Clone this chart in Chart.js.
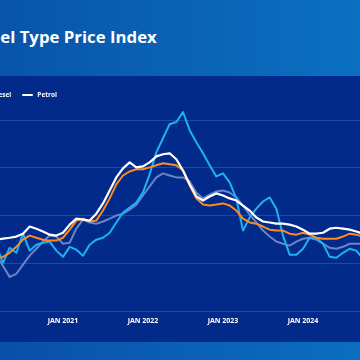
<!DOCTYPE html>
<html>
<head>
<meta charset="utf-8">
<script src="https://cdn.jsdelivr.net/npm/chart.js@4/dist/chart.umd.min.js"></script>
<style>
  html, body { margin:0; padding:0; width:360px; height:360px; overflow:hidden; background:#022a8b; }
  #header { position:absolute; left:0; top:0; width:360px; height:76px;
    background: linear-gradient(90deg, #0855ab 0%, #0a62b6 50%, #0a70c2 100%); }
  #title { position:absolute; left:-20px; top:26.5px; line-height:20px; white-space:nowrap;
    font-family:'Open Sans', sans-serif; font-weight:700; font-size:16.8px; color:#ffffff; }
  #panel { position:absolute; left:0; top:76px; width:360px; height:266px; background:#022a8b; }
  #footer { position:absolute; left:0; top:342px; width:360px; height:18px;
    background: linear-gradient(90deg, #0a4fa9 0%, #0a5fb6 50%, #0a6ec1 100%); }
  #legend { position:absolute; right:303px; top:91px; white-space:nowrap; display:flex; gap:11px;
    font-family:'Open Sans', sans-serif; font-weight:700; font-size:6.5px; color:#ffffff; line-height:8px; }
  .item { display:flex; align-items:center; gap:4px; }
  .mark { display:inline-block; width:11px; height:2px; border-radius:1px; }
  #wrap { position:absolute; left:0; top:76px; width:360px; height:266px; }
</style>
</head>
<body>
<div id="header"><div id="title">Fuel Type Price Index</div></div>
<div id="panel"></div>
<div id="footer"></div>
<div id="wrap"><canvas id="c" width="360" height="266"></canvas></div>
<div id="legend"></div>
<script>
// Months (Mar 2020 .. Oct 2024)
const months = [];
(function(){
  const names = ['JAN','FEB','MAR','APR','MAY','JUN','JUL','AUG','SEP','OCT','NOV','DEC'];
  for (let y = 2020; y <= 2024; y++) for (let m = 0; m < 12; m++) {
    if (y === 2020 && m < 2) continue;
    if (y === 2024 && m > 9) continue;
    months.push(names[m] + ' ' + y);
  }
})();
const tickLabels = ['JAN 2021', 'JAN 2022', 'JAN 2023', 'JAN 2024'];
const gridValues = [60, 80, 100, 120, 140];

const seriesNames = ['Kerosene', 'LPG', 'Diesel', 'Petrol'];

const petrol = [89.9,90.3,90.7,91.2,92.4,95.4,94.5,93.3,92.0,91.6,92.8,96.2,98.7,98.3,97.9,100.8,105.1,110.5,116.0,119.8,122.3,120.2,120.6,122.3,124.8,125.7,126.1,123.6,118.9,113.1,108.0,106.3,108.0,109.3,108.4,107.2,106.3,104.2,102.1,99.2,97.5,97.1,96.6,96.6,96.2,95.4,94.1,92.4,92.4,92.8,94.5,94.9,94.5,94.1,93.3,92.4];
const diesel = [81.9,82.7,84.4,86.9,89.9,91.6,90.7,89.9,89.5,89.5,90.7,94.1,97.9,98.7,97.5,97.9,102.1,107.2,113.1,116.8,118.5,119.4,119.4,120.2,121.1,121.9,121.5,121.1,118.9,112.6,107.2,104.6,104.2,104.6,105.1,104.2,102.1,98.7,97.1,96.6,95.4,94.1,93.7,93.7,92.4,92.0,92.8,92.0,90.7,90.3,90.3,90.3,91.2,92.4,92.0,91.2];
const lpg = [83.2,78.9,74.3,75.6,79.4,83.2,86.1,89.1,91.6,91.2,88.2,88.6,94.5,98.3,97.1,96.6,97.5,98.7,100.0,100.8,102.5,104.6,108.4,112.2,116.0,117.7,116.8,116.0,116.0,114.3,109.7,107.2,108.8,110.1,110.5,109.7,107.6,104.2,100.4,97.1,93.7,91.2,89.1,88.2,87.4,89.1,90.3,90.7,89.9,88.2,86.5,86.1,86.9,88.2,88.2,88.2];
const kerosene = [87.4,80.2,86.5,84.4,92.4,85.3,87.8,88.6,89.1,85.3,82.7,86.9,85.7,83.2,87.8,89.9,90.7,92.8,97.1,101.3,103.4,105.5,109.7,117.3,126.5,132.4,138.3,139.2,143.4,135.8,130.7,126.1,121.1,116.4,117.7,113.9,107.2,93.7,99.2,102.9,105.9,107.6,102.9,91.6,83.6,83.6,86.1,90.7,90.7,88.2,82.7,82.3,84.4,86.1,85.3,81.9];

const colors = { Kerosene:'#1cb3f0', LPG:'#6a84c6', Diesel:'#ff8a1d', Petrol:'#ffffff' };
const toXY = arr => arr.map((v, i) => ({ x: i, y: v }));

// HTML legend
const lg = document.getElementById('legend');
seriesNames.forEach(n => {
  const it = document.createElement('span'); it.className = 'item';
  const mk = document.createElement('span'); mk.className = 'mark'; mk.style.background = colors[n];
  const tx = document.createElement('span'); tx.textContent = n;
  it.appendChild(mk); it.appendChild(tx); lg.appendChild(it);
});

const j21 = months.indexOf('JAN 2021');
new Chart(document.getElementById('c'), {
  type: 'line',
  data: {
    datasets: [
      { label: 'Petrol', data: toXY(petrol), borderColor: colors.Petrol, borderWidth: 2.2 },
      { label: 'Diesel', data: toXY(diesel), borderColor: colors.Diesel, borderWidth: 2 },
      { label: 'Kerosene', data: toXY(kerosene), borderColor: colors.Kerosene, borderWidth: 2 },
      { label: 'LPG', data: toXY(lpg), borderColor: colors.LPG, borderWidth: 2 }
    ]
  },
  options: {
    responsive: false,
    animation: false,
    events: [],
    elements: { point: { radius: 0 }, line: { tension: 0, borderJoinStyle: 'round', borderCapStyle: 'round' } },
    layout: { padding: { left: 0, right: 0, top: 0, bottom: 10.6 } },
    plugins: { legend: { display: false }, tooltip: { enabled: false } },
    scales: {
      x: {
        type: 'linear',
        min: j21 - 63 / 6.6667,
        max: j21 + (360 - 63) / 6.6667,
        afterBuildTicks: s => { s.ticks = tickLabels.map(l => ({ value: months.indexOf(l) })); },
        grid: { display: false, drawTicks: false },
        border: { display: false },
        ticks: {
          autoSkip: false, maxRotation: 0, padding: 6, color: '#ffffff',
          font: { family: 'Open Sans', weight: 'bold', size: 7 },
          callback: v => months[v]
        }
      },
      y: {
        min: 60, max: 158.5,
        afterBuildTicks: s => { s.ticks = gridValues.map(v => ({ value: v })); },
        grid: { color: '#1f48a3', lineWidth: 1, drawTicks: false },
        border: { display: false },
        ticks: { display: false }
      }
    }
  }
});
</script>
</body>
</html>
